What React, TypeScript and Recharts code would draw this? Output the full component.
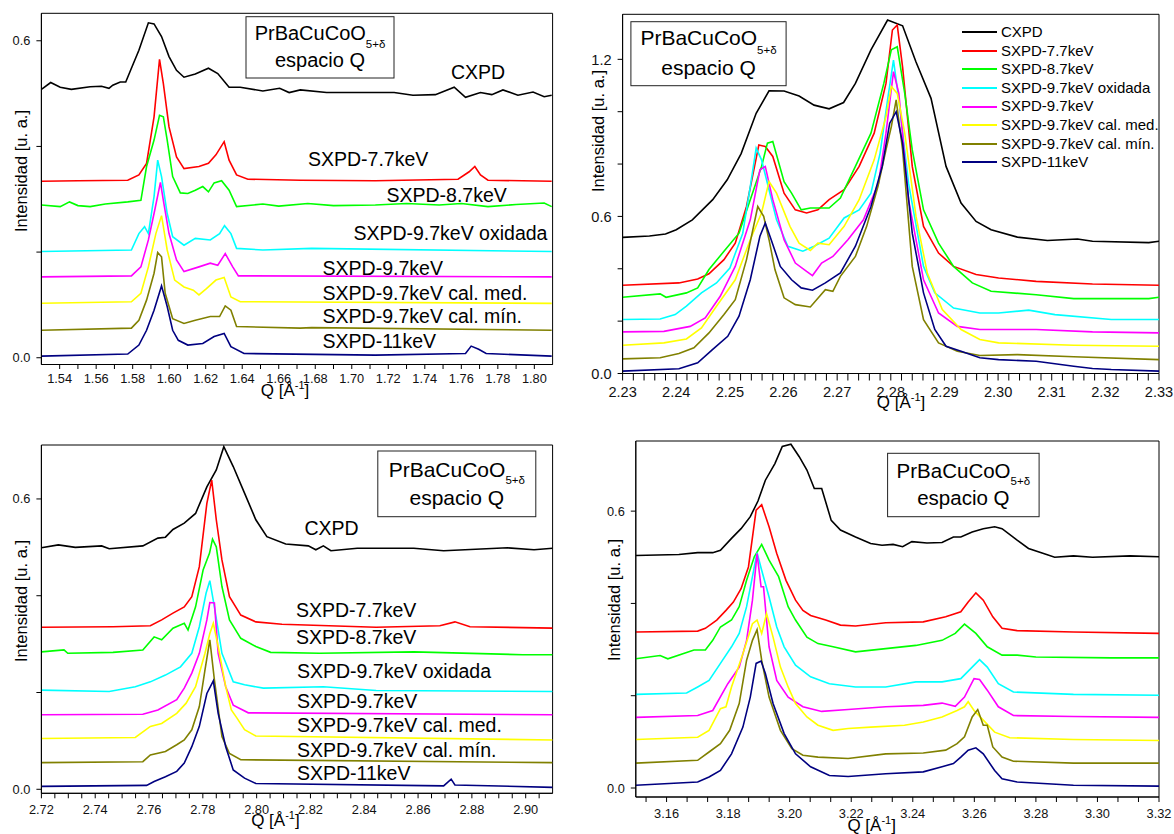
import React from 'react'
import { LineChart, Line, XAxis, YAxis, Legend, ReferenceArea } from 'recharts'

type Pt = [number, number]

const FONT = '"Liberation Sans", Arial, Helvetica, sans-serif'

const SERIES = [
  'CXPD',
  'SXPD-7.7keV',
  'SXPD-8.7keV',
  'SXPD-9.7keV oxidada',
  'SXPD-9.7keV',
  'SXPD-9.7keV cal. med.',
  'SXPD-9.7keV cal. mín.',
  'SXPD-11keV',
]
const COLORS = ['#000000', '#ff0000', '#00ff00', '#00ffff', '#ff00ff', '#ffff00', '#808000', '#000080']

// ---- panel 1 : 1.53 - 1.81 ----
const P1_CXPD: Pt[] = [[1.53,0.508],[1.5351,0.521],[1.5403,0.512],[1.5464,0.508],[1.5567,0.513],[1.5629,0.514],[1.567,0.51],[1.5691,0.516],[1.5732,0.522],[1.5762,0.522],[1.5793,0.548],[1.5834,0.582],[1.5886,0.634],[1.5917,0.632],[1.5958,0.608],[1.5999,0.57],[1.604,0.544],[1.6081,0.531],[1.6143,0.537],[1.6215,0.548],[1.6266,0.538],[1.6328,0.512],[1.6389,0.512],[1.6513,0.505],[1.6605,0.51],[1.6657,0.502],[1.6718,0.507],[1.6862,0.502],[1.7027,0.502],[1.7232,0.502],[1.7335,0.497],[1.7458,0.498],[1.7561,0.512],[1.7623,0.493],[1.7705,0.502],[1.7767,0.498],[1.7828,0.507],[1.791,0.497],[1.7993,0.503],[1.8054,0.494],[1.8095,0.497]]
const P1_SX77: Pt[] = [[1.53,0.334],[1.55,0.335],[1.5773,0.336],[1.5834,0.346],[1.5876,0.368],[1.5917,0.456],[1.5947,0.565],[1.5968,0.519],[1.5999,0.437],[1.604,0.38],[1.6081,0.358],[1.6163,0.362],[1.6215,0.368],[1.6256,0.384],[1.6301,0.409],[1.6328,0.374],[1.6369,0.346],[1.6431,0.338],[1.6718,0.336],[1.7129,0.335],[1.7582,0.338],[1.7643,0.352],[1.7674,0.362],[1.7705,0.346],[1.7746,0.336],[1.8095,0.334]]
const P1_SX87: Pt[] = [[1.53,0.289],[1.5403,0.286],[1.5454,0.295],[1.55,0.288],[1.5567,0.286],[1.565,0.291],[1.5773,0.295],[1.5845,0.298],[1.5876,0.362],[1.5917,0.412],[1.5947,0.459],[1.5968,0.456],[1.5989,0.412],[1.6019,0.343],[1.6061,0.312],[1.6102,0.311],[1.6143,0.317],[1.6184,0.324],[1.6215,0.314],[1.6246,0.331],[1.6287,0.335],[1.6328,0.317],[1.6369,0.286],[1.6513,0.291],[1.66,0.287],[1.6759,0.292],[1.69,0.288],[1.7129,0.289],[1.73,0.292],[1.7479,0.289],[1.76,0.292],[1.7746,0.286],[1.79,0.29],[1.8054,0.293],[1.8095,0.286]]
const P1_SX97OX: Pt[] = [[1.53,0.201],[1.5793,0.204],[1.5834,0.235],[1.5865,0.248],[1.5886,0.235],[1.5917,0.305],[1.5937,0.374],[1.5958,0.343],[1.5989,0.273],[1.6019,0.229],[1.6081,0.213],[1.6143,0.226],[1.6225,0.223],[1.6276,0.235],[1.6303,0.25],[1.6338,0.235],[1.6369,0.207],[1.6513,0.204],[1.678,0.207],[1.8095,0.201]]
const P1_SX97: Pt[] = [[1.53,0.153],[1.5793,0.155],[1.5845,0.172],[1.5886,0.223],[1.5917,0.273],[1.5952,0.332],[1.5968,0.298],[1.5999,0.235],[1.604,0.185],[1.6081,0.163],[1.6163,0.172],[1.6225,0.179],[1.6266,0.175],[1.6307,0.197],[1.6348,0.172],[1.6379,0.155],[1.8095,0.153]]
const P1_SX97MED: Pt[] = [[1.53,0.103],[1.5793,0.106],[1.5845,0.122],[1.5886,0.172],[1.5927,0.235],[1.5958,0.269],[1.5989,0.204],[1.603,0.147],[1.6081,0.134],[1.6132,0.128],[1.6163,0.119],[1.6204,0.131],[1.6256,0.147],[1.6301,0.152],[1.6338,0.115],[1.6389,0.106],[1.8095,0.103]]
const P1_SX97MIN: Pt[] = [[1.53,0.052],[1.5793,0.056],[1.5834,0.071],[1.5876,0.109],[1.5917,0.16],[1.5937,0.199],[1.5958,0.191],[1.5978,0.122],[1.6019,0.074],[1.6081,0.065],[1.6143,0.071],[1.6225,0.078],[1.6276,0.078],[1.6307,0.098],[1.6338,0.09],[1.6369,0.059],[1.6718,0.056],[1.678,0.057],[1.8095,0.052]]
const P1_SX11: Pt[] = [[1.53,0.003],[1.5773,0.007],[1.5834,0.024],[1.5876,0.052],[1.5917,0.09],[1.5958,0.136],[1.5989,0.097],[1.6019,0.052],[1.605,0.033],[1.6102,0.024],[1.6184,0.027],[1.6246,0.04],[1.6301,0.046],[1.6338,0.021],[1.641,0.008],[1.7129,0.005],[1.7623,0.008],[1.7654,0.022],[1.7695,0.016],[1.7736,0.008],[1.8095,0.003]]

// ---- panel 2 : 2.23 - 2.33 ----
const P2_CXPD: Pt[] = [[2.23,0.52],[2.235,0.525],[2.238,0.533],[2.24,0.549],[2.243,0.587],[2.2468,0.664],[2.2495,0.74],[2.2521,0.84],[2.2549,0.994],[2.2573,1.08],[2.2601,1.079],[2.2629,1.06],[2.2657,1.025],[2.2685,1.011],[2.2712,1.035],[2.2734,1.108],[2.2763,1.236],[2.2794,1.35],[2.2822,1.328],[2.2847,1.19],[2.2875,1.051],[2.2903,0.791],[2.2931,0.651],[2.2959,0.581],[2.2987,0.549],[2.3036,0.521],[2.3092,0.508],[2.3148,0.514],[2.3176,0.505],[2.3281,0.5],[2.33,0.505]]
const P2_SX77: Pt[] = [[2.23,0.337],[2.2405,0.346],[2.244,0.361],[2.2461,0.381],[2.2489,0.435],[2.251,0.498],[2.2531,0.638],[2.2554,0.873],[2.2566,0.867],[2.258,0.829],[2.2601,0.689],[2.2622,0.625],[2.2643,0.613],[2.2664,0.625],[2.2685,0.664],[2.2713,0.702],[2.2741,0.791],[2.2769,0.918],[2.2791,1.108],[2.2803,1.312],[2.2812,1.331],[2.2822,1.17],[2.284,0.791],[2.2861,0.562],[2.2889,0.46],[2.2917,0.409],[2.2959,0.378],[2.3001,0.365],[2.3071,0.352],[2.3176,0.342],[2.33,0.337]]
const P2_SX87: Pt[] = [[2.23,0.291],[2.237,0.304],[2.2381,0.291],[2.2419,0.308],[2.244,0.327],[2.2461,0.397],[2.2489,0.467],[2.2517,0.536],[2.2538,0.664],[2.2559,0.791],[2.257,0.88],[2.258,0.886],[2.2601,0.733],[2.2615,0.689],[2.2633,0.625],[2.265,0.632],[2.2685,0.632],[2.2706,0.67],[2.2734,0.791],[2.2763,0.918],[2.2787,1.108],[2.2801,1.236],[2.2812,1.248],[2.2826,1.07],[2.284,0.854],[2.2861,0.625],[2.2889,0.498],[2.2917,0.409],[2.2952,0.346],[2.2987,0.314],[2.3071,0.301],[2.3141,0.286],[2.3281,0.286],[2.33,0.291]]
const P2_SX97OX: Pt[] = [[2.23,0.206],[2.237,0.208],[2.2398,0.225],[2.2419,0.257],[2.2447,0.308],[2.2475,0.346],[2.25,0.403],[2.2524,0.536],[2.2538,0.714],[2.2549,0.861],[2.2559,0.816],[2.2573,0.702],[2.2587,0.587],[2.2608,0.486],[2.2636,0.467],[2.2657,0.486],[2.2685,0.517],[2.2713,0.594],[2.2741,0.625],[2.2763,0.689],[2.278,0.841],[2.2794,1.045],[2.2805,1.197],[2.2815,1.045],[2.2833,0.727],[2.2861,0.409],[2.2882,0.308],[2.2917,0.25],[2.2966,0.231],[2.3001,0.231],[2.3057,0.242],[2.3106,0.225],[2.3211,0.206],[2.33,0.206]]
const P2_SX97: Pt[] = [[2.23,0.159],[2.2377,0.161],[2.2426,0.18],[2.2454,0.212],[2.2482,0.295],[2.251,0.409],[2.2538,0.587],[2.2556,0.778],[2.2566,0.791],[2.258,0.664],[2.2601,0.511],[2.2622,0.422],[2.2643,0.39],[2.2654,0.374],[2.2671,0.422],[2.2692,0.447],[2.272,0.511],[2.2749,0.587],[2.2777,0.727],[2.2791,0.918],[2.2805,1.153],[2.2815,1.07],[2.2833,0.664],[2.2861,0.358],[2.2889,0.231],[2.2924,0.18],[2.2966,0.168],[2.3071,0.168],[2.3176,0.159],[2.33,0.155]]
const P2_SX97MED: Pt[] = [[2.23,0.108],[2.2377,0.117],[2.2419,0.132],[2.2447,0.174],[2.2475,0.257],[2.251,0.358],[2.2538,0.511],[2.2559,0.613],[2.2573,0.733],[2.2587,0.689],[2.2612,0.562],[2.2629,0.498],[2.265,0.47],[2.2664,0.498],[2.2685,0.492],[2.2713,0.562],[2.2741,0.664],[2.2769,0.816],[2.2791,0.981],[2.2801,1.096],[2.2812,1.07],[2.2826,0.918],[2.2847,0.6],[2.2868,0.384],[2.2896,0.244],[2.2931,0.168],[2.2966,0.13],[2.3001,0.117],[2.3141,0.108],[2.33,0.104]]
const P2_SX97MIN: Pt[] = [[2.23,0.056],[2.237,0.06],[2.2405,0.076],[2.2433,0.098],[2.2461,0.155],[2.2489,0.225],[2.251,0.282],[2.2531,0.435],[2.2552,0.638],[2.2563,0.6],[2.2573,0.511],[2.2584,0.397],[2.2601,0.289],[2.2622,0.263],[2.265,0.254],[2.2678,0.32],[2.2692,0.314],[2.2706,0.371],[2.2734,0.447],[2.2755,0.562],[2.2776,0.714],[2.2791,0.854],[2.2801,0.943],[2.281,1.045],[2.2822,0.854],[2.284,0.409],[2.2861,0.206],[2.2889,0.117],[2.2924,0.085],[2.2966,0.069],[2.3036,0.072],[2.3141,0.064],[2.33,0.053]]
const P2_SX11: Pt[] = [[2.23,0.009],[2.2405,0.018],[2.244,0.041],[2.2468,0.092],[2.2496,0.142],[2.2517,0.219],[2.2538,0.358],[2.2556,0.524],[2.2566,0.575],[2.2577,0.511],[2.2594,0.409],[2.2615,0.358],[2.2633,0.327],[2.2654,0.318],[2.2678,0.346],[2.2706,0.384],[2.2734,0.486],[2.2763,0.638],[2.2784,0.791],[2.2798,0.956],[2.281,1.0],[2.2822,0.88],[2.284,0.536],[2.2861,0.308],[2.2882,0.168],[2.2903,0.104],[2.2931,0.085],[2.2966,0.06],[2.3001,0.053],[2.3071,0.047],[2.3141,0.028],[2.3176,0.019],[2.3211,0.015],[2.33,0.009]]

// ---- panel 3 : 2.72 - 2.91 ----
const P3_CXPD: Pt[] = [[2.72,0.499],[2.7263,0.505],[2.7326,0.5],[2.7424,0.503],[2.7452,0.497],[2.7577,0.503],[2.7633,0.519],[2.7661,0.521],[2.7689,0.537],[2.7731,0.55],[2.7773,0.57],[2.7815,0.625],[2.785,0.66],[2.7878,0.708],[2.7913,0.667],[2.7955,0.612],[2.7997,0.557],[2.8038,0.522],[2.8108,0.507],[2.8192,0.503],[2.822,0.495],[2.8248,0.503],[2.8276,0.493],[2.8374,0.498],[2.8584,0.498],[2.8695,0.493],[2.8933,0.499],[2.9031,0.495],[2.91,0.498]]
const P3_SX77: Pt[] = [[2.72,0.335],[2.7466,0.336],[2.7605,0.338],[2.7647,0.35],[2.7689,0.364],[2.7731,0.377],[2.7759,0.398],[2.7787,0.46],[2.7815,0.591],[2.7833,0.639],[2.785,0.557],[2.7871,0.474],[2.7899,0.398],[2.7941,0.36],[2.7997,0.346],[2.8094,0.341],[2.8444,0.335],[2.8681,0.338],[2.8737,0.346],[2.8793,0.336],[2.91,0.333]]
const P3_SX87: Pt[] = [[2.72,0.284],[2.7284,0.288],[2.7298,0.281],[2.7466,0.283],[2.7577,0.288],[2.7619,0.315],[2.7647,0.309],[2.7689,0.333],[2.7731,0.343],[2.7745,0.329],[2.7773,0.377],[2.7801,0.453],[2.7825,0.488],[2.7836,0.517],[2.785,0.501],[2.7871,0.419],[2.7899,0.35],[2.7941,0.312],[2.7997,0.295],[2.8052,0.283],[2.8234,0.281],[2.8584,0.284],[2.8989,0.278],[2.91,0.278]]
const P3_SX97OX: Pt[] = [[2.72,0.205],[2.7452,0.202],[2.7549,0.212],[2.7605,0.222],[2.7661,0.236],[2.7717,0.253],[2.7759,0.281],[2.7787,0.336],[2.7812,0.405],[2.7826,0.431],[2.7843,0.377],[2.7871,0.281],[2.7913,0.222],[2.7955,0.216],[2.8025,0.209],[2.8248,0.212],[2.8444,0.204],[2.91,0.202]]
const P3_SX97: Pt[] = [[2.72,0.154],[2.7577,0.155],[2.7633,0.164],[2.7703,0.185],[2.7731,0.209],[2.7759,0.24],[2.7787,0.281],[2.7815,0.35],[2.7826,0.386],[2.7843,0.385],[2.7857,0.281],[2.7885,0.212],[2.7913,0.174],[2.7969,0.158],[2.91,0.154]]
const P3_SX97MED: Pt[] = [[2.72,0.105],[2.7549,0.107],[2.7605,0.13],[2.7647,0.136],[2.7703,0.157],[2.7738,0.178],[2.7773,0.212],[2.7808,0.281],[2.7826,0.322],[2.7839,0.343],[2.7857,0.295],[2.7885,0.212],[2.7906,0.164],[2.7927,0.147],[2.7955,0.123],[2.7997,0.11],[2.91,0.102]]
const P3_SX97MIN: Pt[] = [[2.72,0.055],[2.7577,0.057],[2.7605,0.071],[2.7661,0.078],[2.7703,0.092],[2.7731,0.102],[2.7759,0.123],[2.7787,0.171],[2.7808,0.247],[2.7826,0.309],[2.7843,0.226],[2.7871,0.109],[2.7899,0.074],[2.7941,0.061],[2.91,0.055]]
const P3_SX11: Pt[] = [[2.72,0.006],[2.7591,0.008],[2.7619,0.016],[2.7661,0.026],[2.7703,0.037],[2.7731,0.054],[2.7759,0.088],[2.7787,0.13],[2.7815,0.198],[2.7839,0.224],[2.7857,0.157],[2.7885,0.088],[2.7913,0.04],[2.7955,0.023],[2.7997,0.012],[2.8695,0.007],[2.8723,0.021],[2.8737,0.009],[2.91,0.004]]

// ---- panel 4 : 3.15 - 3.32 ----
const P4_CXPD: Pt[] = [[3.15,0.504],[3.164,0.506],[3.1701,0.51],[3.175,0.51],[3.1775,0.515],[3.1811,0.541],[3.1842,0.562],[3.1872,0.588],[3.1897,0.622],[3.1921,0.667],[3.1952,0.703],[3.1976,0.74],[3.2004,0.745],[3.2031,0.718],[3.2056,0.689],[3.208,0.649],[3.2104,0.649],[3.2135,0.58],[3.2165,0.559],[3.2214,0.544],[3.2263,0.53],[3.23,0.526],[3.2336,0.528],[3.2367,0.523],[3.2397,0.534],[3.2446,0.531],[3.2495,0.532],[3.2532,0.544],[3.2556,0.544],[3.2593,0.555],[3.2629,0.562],[3.2666,0.566],[3.269,0.562],[3.2739,0.537],[3.2776,0.519],[3.2825,0.508],[3.2861,0.5],[3.2922,0.503],[3.2984,0.5],[3.3106,0.503],[3.32,0.501]]
const P4_SX77: Pt[] = [[3.15,0.338],[3.1701,0.34],[3.1726,0.346],[3.1763,0.364],[3.1793,0.385],[3.1817,0.403],[3.1842,0.432],[3.1866,0.479],[3.1891,0.602],[3.1909,0.614],[3.1933,0.566],[3.1958,0.508],[3.1988,0.45],[3.2019,0.407],[3.2043,0.385],[3.2068,0.374],[3.2117,0.364],[3.2165,0.353],[3.2214,0.351],[3.2312,0.358],[3.2434,0.36],[3.2507,0.371],[3.2556,0.382],[3.258,0.403],[3.2605,0.423],[3.2629,0.407],[3.266,0.371],[3.269,0.346],[3.2739,0.341],[3.2922,0.338],[3.32,0.335]]
const P4_SX87: Pt[] = [[3.15,0.28],[3.1579,0.287],[3.1604,0.28],[3.1689,0.299],[3.1726,0.299],[3.175,0.32],[3.1775,0.349],[3.1811,0.364],[3.1836,0.393],[3.186,0.45],[3.1885,0.501],[3.1909,0.528],[3.1933,0.494],[3.1964,0.458],[3.1995,0.393],[3.2019,0.364],[3.2056,0.327],[3.2092,0.313],[3.2141,0.306],[3.2214,0.295],[3.2312,0.302],[3.241,0.309],[3.2495,0.32],[3.2538,0.335],[3.2568,0.355],[3.2605,0.335],[3.2642,0.306],[3.269,0.288],[3.2739,0.288],[3.28,0.284],[3.3045,0.282],[3.32,0.282]]
const P4_SX97OX: Pt[] = [[3.15,0.203],[3.1665,0.206],[3.1701,0.219],[3.1738,0.233],[3.1775,0.27],[3.1811,0.306],[3.1836,0.335],[3.186,0.393],[3.1879,0.458],[3.1894,0.51],[3.1909,0.472],[3.1933,0.414],[3.1958,0.349],[3.1982,0.306],[3.2019,0.266],[3.2068,0.241],[3.2129,0.226],[3.2214,0.219],[3.2312,0.219],[3.241,0.23],[3.2495,0.23],[3.2556,0.237],[3.2593,0.262],[3.2617,0.278],[3.2642,0.262],[3.2678,0.226],[3.2727,0.208],[3.2922,0.203],[3.32,0.201]]
const P4_SX97: Pt[] = [[3.15,0.153],[3.1701,0.157],[3.175,0.168],[3.1799,0.226],[3.1836,0.262],[3.186,0.32],[3.1879,0.407],[3.1894,0.508],[3.1907,0.436],[3.1915,0.436],[3.1933,0.306],[3.1958,0.233],[3.1995,0.197],[3.2043,0.176],[3.2104,0.166],[3.219,0.17],[3.2312,0.176],[3.2434,0.179],[3.2495,0.184],[3.2538,0.177],[3.2568,0.197],[3.2599,0.237],[3.2617,0.235],[3.2642,0.212],[3.2678,0.176],[3.2727,0.157],[3.2922,0.155],[3.32,0.153]]
const P4_SX97MED: Pt[] = [[3.15,0.105],[3.1701,0.11],[3.1738,0.125],[3.1775,0.172],[3.1793,0.176],[3.1811,0.219],[3.1848,0.291],[3.1879,0.356],[3.1894,0.364],[3.1909,0.335],[3.1925,0.378],[3.1946,0.327],[3.197,0.262],[3.1995,0.219],[3.2019,0.183],[3.2056,0.154],[3.2092,0.136],[3.2141,0.125],[3.219,0.129],[3.2263,0.132],[3.2373,0.136],[3.2434,0.143],[3.2495,0.154],[3.2544,0.168],[3.2568,0.176],[3.258,0.187],[3.2599,0.168],[3.2629,0.147],[3.2666,0.121],[3.2715,0.109],[3.2922,0.105],[3.32,0.103]]
const P4_SX97MIN: Pt[] = [[3.15,0.054],[3.1701,0.06],[3.1738,0.078],[3.1775,0.096],[3.1805,0.125],[3.1836,0.183],[3.186,0.277],[3.1879,0.32],[3.1894,0.343],[3.1909,0.277],[3.1933,0.197],[3.197,0.125],[3.2007,0.085],[3.2043,0.071],[3.2092,0.067],[3.219,0.064],[3.2312,0.074],[3.2434,0.076],[3.2507,0.082],[3.2544,0.096],[3.2568,0.111],[3.2593,0.154],[3.2611,0.17],[3.2629,0.136],[3.2642,0.136],[3.266,0.089],[3.269,0.067],[3.2727,0.058],[3.2922,0.054],[3.32,0.054]]
const P4_SX11: Pt[] = [[3.15,0.006],[3.1701,0.013],[3.1738,0.024],[3.1775,0.038],[3.1811,0.074],[3.1848,0.132],[3.1872,0.197],[3.1891,0.27],[3.1907,0.275],[3.1921,0.248],[3.1946,0.183],[3.1982,0.118],[3.2019,0.074],[3.2068,0.046],[3.2129,0.027],[3.219,0.025],[3.2312,0.031],[3.2434,0.035],[3.2495,0.046],[3.2532,0.053],[3.2556,0.067],[3.258,0.082],[3.2605,0.087],[3.2629,0.074],[3.2666,0.038],[3.269,0.02],[3.2739,0.013],[3.2922,0.006],[3.32,0.004]]

// tick labels
const P1_XMAJOR = [1.54, 1.56, 1.58, 1.6, 1.62, 1.64, 1.66, 1.68, 1.7, 1.72, 1.74, 1.76, 1.78, 1.8]
const P2_XMAJOR = [2.23, 2.24, 2.25, 2.26, 2.27, 2.28, 2.29, 2.3, 2.31, 2.32, 2.33]
const P3_XMAJOR = [2.72, 2.74, 2.76, 2.78, 2.8, 2.82, 2.84, 2.86, 2.88, 2.9]
const P4_XMAJOR = [3.16, 3.18, 3.2, 3.22, 3.24, 3.26, 3.28, 3.3, 3.32]
const Y_TICKS_SHORT = [0, 0.2, 0.4, 0.6]
const Y_TICKS_TALL = [0, 0.2, 0.4, 0.6, 0.8, 1.0, 1.2]
const Y_LABELS_SHORT = [0, 0.6]
const Y_LABELS_TALL = [0, 0.6, 1.2]

// every major step is split into `sub` parts for the unlabelled ticks
function buildTicks(majors: number[], sub: number, lo: number, hi: number) {
  const step = (majors[1] - majors[0]) / sub
  const out: number[] = []
  for (let i = -sub; i <= (majors.length + 1) * sub; i++) {
    const t = Math.round((majors[0] + i * step) * 1e6) / 1e6
    if (t > lo + 1e-6 && t < hi - 1e-6) out.push(t)
    else if (majors.some(m => Math.abs(m - t) < 1e-6) && t >= lo - 1e-6 && t <= hi + 1e-6) out.push(t)
  }
  return out
}

const near = (list: number[], v: number) => list.some(m => Math.abs(m - v) < 1e-6)
const toRows = (pts: Pt[]) => pts.map(([q, v]) => ({ q, v }))

interface Note { text: string; x: number; y: number }
interface PanelCfg {
  left: number; top: number; width: number; height: number
  plot: { l: number; t: number; r: number; b: number }
  xDomain: [number, number]; yDomain: [number, number]
  xMajor: number[]; sub: number
  yTicks: number[]; yLabels: number[]
  tickFont: number; xTickSize: number; xTickMargin: number
  series: Pt[][]
  title: { x: number; y: number; w: number; h: number; font: number; b1: number; b2: number; subDy: number }
  notes: Note[]
  yTitle: { x: number; y: number }
  xTitle: { x: number; y: number }
  legend?: boolean
}

function LegendBox(props: any) {
  const payload = [...(props.payload || [])].sort(
    (a: any, b: any) => SERIES.indexOf(a.value) - SERIES.indexOf(b.value)
  )
  return (
    <div style={{ fontFamily: FONT, fontSize: 15, color: '#000' }}>
      {payload.map((p: any) => (
        <div key={p.value} style={{ display: 'flex', alignItems: 'center', height: 18.6 }}>
          <svg width={35} height={4} style={{ display: 'block' }}>
            <line x1={0} y1={2} x2={35} y2={2} stroke={p.color} strokeWidth={1.8} />
          </svg>
          <span style={{ marginLeft: 4, whiteSpace: 'nowrap', lineHeight: '18.6px' }}>{p.value}</span>
        </div>
      ))}
    </div>
  )
}

function Panel({ cfg }: { cfg: PanelCfg }) {
  const { plot, title } = cfg
  const xTicks = buildTicks(cfg.xMajor, cfg.sub, cfg.xDomain[0], cfg.xDomain[1])
  const tickStyle = { fontSize: cfg.tickFont, fill: '#111', fontFamily: FONT }
  return (
    <div style={{ position: 'absolute', left: cfg.left, top: cfg.top, width: cfg.width, height: cfg.height }}>
      <LineChart
        width={cfg.width}
        height={cfg.height}
        margin={{ top: plot.t, right: cfg.width - plot.r, bottom: cfg.height - plot.b - 30, left: 0 }}
      >
        <XAxis
          type="number"
          dataKey="q"
          domain={cfg.xDomain}
          allowDataOverflow
          ticks={xTicks}
          interval={0}
          tickFormatter={(v: number) => (near(cfg.xMajor, v) ? v.toFixed(2) : '')}
          tick={tickStyle}
          tickSize={cfg.xTickSize}
          tickMargin={cfg.xTickMargin}
          axisLine={{ stroke: '#000' }}
          tickLine={{ stroke: '#000' }}
          height={30}
        />
        <YAxis
          type="number"
          domain={cfg.yDomain}
          allowDataOverflow
          ticks={cfg.yTicks}
          interval={0}
          tickFormatter={(v: number) => (near(cfg.yLabels, v) ? v.toFixed(1) : '')}
          tick={tickStyle}
          tickSize={5}
          tickMargin={6}
          axisLine={{ stroke: '#000' }}
          tickLine={{ stroke: '#000' }}
          width={plot.l}
        />
        <ReferenceArea
          x1={cfg.xDomain[0]}
          x2={cfg.xDomain[1]}
          y1={cfg.yDomain[0]}
          y2={cfg.yDomain[1]}
          fill="none"
          stroke="#000"
          strokeWidth={1}
          ifOverflow="visible"
        />
        {cfg.series.map((pts, i) => (
          <Line
            key={SERIES[i]}
            data={toRows(pts)}
            dataKey="v"
            name={SERIES[i]}
            type="linear"
            stroke={COLORS[i]}
            strokeWidth={1.6}
            dot={false}
            activeDot={false}
            isAnimationActive={false}
          />
        ))}
        {cfg.legend && (
          <Legend
            layout="vertical"
            align="center"
            verticalAlign="middle"
            itemSorter={(item: any) => SERIES.indexOf(item.value)}
            wrapperStyle={{ left: 377, top: 23, width: 200 }}
            content={LegendBox}
          />
        )}
      </LineChart>
      <svg
        width={cfg.width}
        height={cfg.height}
        style={{ position: 'absolute', left: 0, top: 0, pointerEvents: 'none', fontFamily: FONT }}
      >
        <rect x={title.x} y={title.y} width={title.w} height={title.h} fill="#fff" stroke="#222" strokeWidth={1} />
        <text x={title.x + title.w / 2} y={title.b1} textAnchor="middle" fontSize={title.font} fill="#000">
          PrBaCuCoO
          <tspan fontSize={11.5} dy={title.subDy}>5+δ</tspan>
        </text>
        <text x={title.x + title.w / 2} y={title.b2} textAnchor="middle" fontSize={title.font} fill="#000">
          espacio Q
        </text>
        {cfg.notes.map(n => (
          <text key={n.text} x={n.x} y={n.y} fontSize={19.5} fill="#000">
            {n.text}
          </text>
        ))}
        <text
          transform={`translate(${cfg.yTitle.x},${cfg.yTitle.y}) rotate(-90)`}
          textAnchor="middle"
          dominantBaseline="central"
          fontSize={16.5}
          fill="#000"
        >
          Intensidad [u. a.]
        </text>
        <text x={cfg.xTitle.x} y={cfg.xTitle.y} textAnchor="middle" fontSize={17} fill="#000">
          Q [Å<tspan fontSize={11} dy={-7}>-1</tspan>
          <tspan dy={7}>]</tspan>
        </text>
      </svg>
    </div>
  )
}

const PANELS: PanelCfg[] = [
  {
    left: 0, top: 0, width: 590, height: 420,
    plot: { l: 41.4, t: 13.3, r: 552.6, b: 364.5 },
    xDomain: [1.53, 1.81], yDomain: [-0.0128, 0.652],
    xMajor: P1_XMAJOR, sub: 2,
    yTicks: Y_TICKS_SHORT, yLabels: Y_LABELS_SHORT,
    tickFont: 12.8, xTickSize: 4.5, xTickMargin: 4.5,
    series: [P1_CXPD, P1_SX77, P1_SX87, P1_SX97OX, P1_SX97, P1_SX97MED, P1_SX97MIN, P1_SX11],
    title: { x: 246, y: 16.7, w: 148, h: 61.3, font: 20, b1: 40, b2: 66.7, subDy: 8 },
    notes: [
      { text: 'CXPD', x: 451, y: 79 },
      { text: 'SXPD-7.7keV', x: 308, y: 166 },
      { text: 'SXPD-8.7keV', x: 386.5, y: 202 },
      { text: 'SXPD-9.7keV oxidada', x: 353.4, y: 240 },
      { text: 'SXPD-9.7keV', x: 322.6, y: 275 },
      { text: 'SXPD-9.7keV cal. med.', x: 322.6, y: 300 },
      { text: 'SXPD-9.7keV cal. mín.', x: 322.6, y: 323 },
      { text: 'SXPD-11keV', x: 322.6, y: 348 },
    ],
    yTitle: { x: 20.7, y: 171 },
    xTitle: { x: 285, y: 396 },
  },
  {
    left: 585, top: 0, width: 589, height: 420,
    plot: { l: 37.6, t: 14.3, r: 574, b: 373.5 },
    xDomain: [2.23, 2.33], yDomain: [0, 1.372],
    xMajor: P2_XMAJOR, sub: 5,
    yTicks: Y_TICKS_TALL, yLabels: Y_LABELS_TALL,
    tickFont: 14.6, xTickSize: 7, xTickMargin: 6,
    series: [P2_CXPD, P2_SX77, P2_SX87, P2_SX97OX, P2_SX97, P2_SX97MED, P2_SX97MIN, P2_SX11],
    title: { x: 45.9, y: 21.7, w: 155.2, h: 64, font: 21, b1: 45, b2: 75, subDy: 9 },
    notes: [],
    yTitle: { x: 13, y: 131 },
    xTitle: { x: 316, y: 408 },
    legend: true,
  },
  {
    left: 0, top: 420, width: 590, height: 414,
    plot: { l: 41.4, t: 25, r: 552.6, b: 373.3 },
    xDomain: [2.72, 2.91], yDomain: [-0.0083, 0.7115],
    xMajor: P3_XMAJOR, sub: 4,
    yTicks: Y_TICKS_SHORT, yLabels: Y_LABELS_SHORT,
    tickFont: 12.8, xTickSize: 5, xTickMargin: 6.5,
    series: [P3_CXPD, P3_SX77, P3_SX87, P3_SX97OX, P3_SX97, P3_SX97MED, P3_SX97MIN, P3_SX11],
    title: { x: 377.8, y: 31, w: 158, h: 65.7, font: 21, b1: 56.7, b2: 85, subDy: 7 },
    notes: [
      { text: 'CXPD', x: 304.5, y: 115 },
      { text: 'SXPD-7.7keV', x: 296, y: 196.7 },
      { text: 'SXPD-8.7keV', x: 296, y: 224.3 },
      { text: 'SXPD-9.7keV oxidada', x: 297, y: 257.7 },
      { text: 'SXPD-9.7keV', x: 297, y: 288.3 },
      { text: 'SXPD-9.7keV cal. med.', x: 297, y: 312.3 },
      { text: 'SXPD-9.7keV cal. mín.', x: 297, y: 336.7 },
      { text: 'SXPD-11keV', x: 297, y: 360 },
    ],
    yTitle: { x: 20.7, y: 181 },
    xTitle: { x: 275.4, y: 406 },
  },
  {
    left: 585, top: 420, width: 589, height: 414,
    plot: { l: 50.8, t: 21, r: 574, b: 377 },
    xDomain: [3.15, 3.32], yDomain: [-0.0195, 0.752],
    xMajor: P4_XMAJOR, sub: 3,
    yTicks: Y_TICKS_SHORT, yLabels: Y_LABELS_SHORT,
    tickFont: 12.8, xTickSize: 5, xTickMargin: 7,
    series: [P4_CXPD, P4_SX77, P4_SX87, P4_SX97OX, P4_SX97, P4_SX97MED, P4_SX97MIN, P4_SX11],
    title: { x: 302.6, y: 33.3, w: 151.5, h: 63.4, font: 20.5, b1: 58.3, b2: 85, subDy: 7 },
    notes: [],
    yTitle: { x: 29.3, y: 180 },
    xTitle: { x: 286.7, y: 410.5 },
  },
]

export default function App() {
  return (
    <div style={{ position: 'absolute', left: 0, top: 0, width: 1174, height: 834, background: '#fff', overflow: 'hidden' }}>
      {PANELS.map((p, i) => (
        <Panel key={i} cfg={p} />
      ))}
    </div>
  )
}
